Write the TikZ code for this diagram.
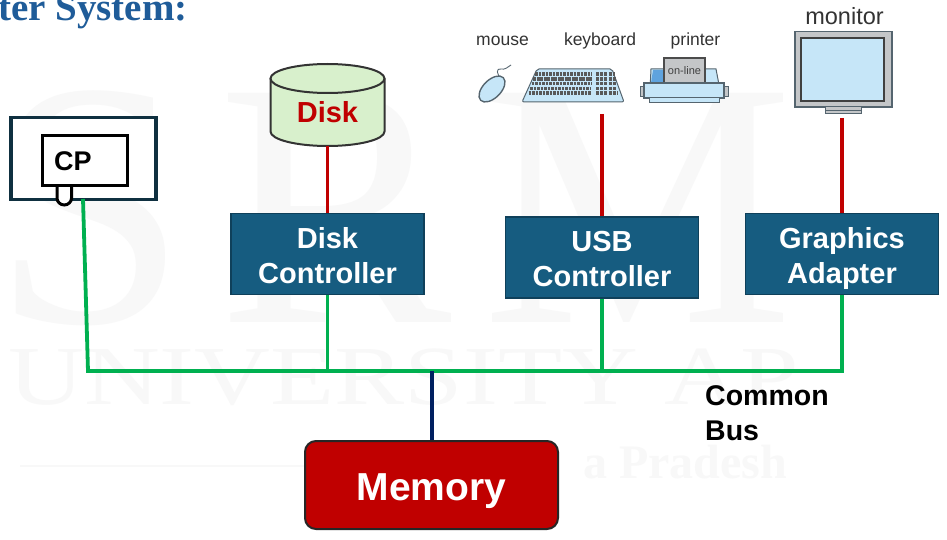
\documentclass[tikz,border=0pt]{standalone}
\usepackage{fontspec}
\usepackage{graphicx}
\setmainfont{Liberation Sans}
\newfontfamily\serifwm{Liberation Serif}
\definecolor{ctrlblue}{HTML}{165C80}
\definecolor{buscol}{HTML}{00B050}
\definecolor{iored}{HTML}{C00000}
\definecolor{memblue}{HTML}{002060}
\definecolor{titleblue}{HTML}{1F5C99}
\definecolor{diskgreen}{HTML}{D8F0CC}
\definecolor{wmgray}{HTML}{F8F8F8}
\definecolor{cpuframe}{HTML}{0F3040}
\definecolor{devblue}{HTML}{C6E6F8}
\definecolor{devedge}{HTML}{55656F}
\definecolor{devgray}{HTML}{C4C6C8}
\newcommand{\firstline}{\rule{0pt}{33.5pt}\strut}
\tikzset{
  x=1pt,y=-1pt,
  ctrlbox/.style={draw=ctrlblue!70!black,line width=1.4pt,fill=ctrlblue,text=white,minimum width=193pt,minimum height=81pt,align=center,font=\fontsize{29}{35}\selectfont\bfseries,inner sep=0pt},
  busline/.style={draw=buscol,line width=3.8pt},
  ioline/.style={draw=iored,line width=3.8pt},
  memline/.style={draw=memblue,line width=3.4pt},
  devlabel/.style={font=\fontsize{17.5}{20}\selectfont,text=black!80,inner sep=0pt},
  devshape/.style={draw=devedge,line width=1pt,fill=devblue},
  watermark/.style={text=wmgray,inner sep=0pt,anchor=base west},
}
\begin{document}
\begin{tikzpicture}
\useasboundingbox (0,0) rectangle (947,540);
\clip (0,0) rectangle (947,540);
\fill[white] (0,0) rectangle (947,540);
% watermark
\node[watermark,font=\serifwm\fontsize{350}{350}\selectfont] (wmS) at (-8,322) {S};
\node[watermark,font=\serifwm\fontsize{350}{350}\selectfont] (wmR) at (218,322) {R};
\node[watermark,font=\serifwm\fontsize{350}{350}\selectfont] (wmM) at (482,322) {M};
\node[watermark,font=\serifwm\fontsize{84}{84}\selectfont] (wmU) at (8,404) {\scalebox{1.25}[1]{UNIVERSITY AP}};
\node[watermark,font=\serifwm\bfseries\fontsize{48}{48}\selectfont] (wmP) at (583,478) {a Pradesh};
\draw[wmgray,line width=1.2pt] (20,466) -- (305,466);
% title
\node[inner sep=0pt,anchor=base west,text=titleblue,font=\serifwm\bfseries\fontsize{39}{39}\selectfont] (title) at (-2,21) {ter System:};
% controllers
\node[ctrlbox] (dc) at (327.5,254) {\firstline Disk\\\strut Controller};
\node[ctrlbox] (usb) at (602,257.5) {\firstline USB\\\strut Controller};
\node[ctrlbox] (ga) at (842,254) {\firstline Graphics\\\strut Adapter};
% cpu
\node[draw=cpuframe,line width=3.6pt,fill=white,minimum width=145pt,minimum height=82pt,inner sep=0pt] (cpu) at (83.5,158.5) {};
\draw[black,line width=3pt,fill=white] (57,184) -- (57,198) arc[start angle=180,end angle=0,x radius=7.25,y radius=7] -- (71.5,184);
\node[draw=black,line width=3.2pt,fill=white,minimum width=85pt,minimum height=50pt,inner sep=0pt] (cp) at (85,160.5) {};
\node[inner sep=0pt,anchor=base west,font=\fontsize{27}{27}\selectfont\bfseries] (cplabel) at (54,171) {CP};
% disk
\node[inner sep=0pt,outer sep=0pt,minimum width=114pt,minimum height=82pt] (disk) at (327.5,105) {};
\draw[draw=black!80,line width=2pt,fill=diskgreen] (270.5,78.5) -- (270.5,131.5) arc[start angle=180,end angle=0,x radius=57,y radius=14.5] -- (384.5,78.5);
\draw[draw=black!80,line width=2pt,fill=diskgreen] (327.5,78.5) ellipse[x radius=57,y radius=14.5];
\node[inner sep=0pt,text=iored,font=\fontsize{29}{29}\selectfont\bfseries] (disklabel) at (327.5,112) {Disk};
% memory
\node[draw=black!85,line width=2pt,fill=iored,rounded corners=11pt,minimum width=253pt,minimum height=88pt,inner sep=0pt] (mem) at (431.5,485) {};
\node[inner sep=0pt,text=white,font=\fontsize{39}{39}\selectfont\bfseries,anchor=base] (memlabel) at (431.5,500) {Memory};
% common bus label
\node[inner sep=0pt,anchor=base west,font=\fontsize{28.5}{28.5}\selectfont\bfseries] (cb1) at (705,405) {Common};
\node[inner sep=0pt,anchor=base west,font=\fontsize{28.5}{28.5}\selectfont\bfseries] (cb2) at (705,440) {Bus};
% device labels
\node[devlabel] (lm) at (502.5,41) {mouse};
\node[devlabel] (lk) at (600,41) {keyboard};
\node[devlabel] (lp) at (695.5,41) {printer};
\node[inner sep=0pt,font=\fontsize{23.5}{24}\selectfont,text=black!80] (lmon) at (844.5,16) {monitor};
% mouse
\draw[devedge,line width=0.9pt] (502,80) .. controls (496,74) and (496,68) .. (501,69) .. controls (505,70) and (508,67) .. (511,65);
\draw[devshape,line width=1.4pt,rotate around={45:(492,89)}] (492,89) ellipse[x radius=16,y radius=9];
% keyboard
\draw[devshape,rounded corners=2pt] (522,102) -- (537,69) -- (612,69) -- (624,102) -- cycle;
\foreach \r in {0,1,2,3,4}{
  \draw[black!65,line width=3.6pt,dash pattern=on 2.6pt off 0.9pt] (535-\r*1.6,74+\r*4.8) -- (592-\r*0.2,74+\r*4.8);
  \draw[black!65,line width=3.6pt,dash pattern=on 3pt off 1.2pt] (596,74+\r*4.8) -- (615+\r*0.6,74+\r*4.8);
}
% printer
\draw[devshape] (650,90) -- (651,69) -- (716,69) -- (720,90) -- cycle;
\fill[cyan!65!blue!65] (651,83) -- (653,70) -- (664,70) -- (664,83) -- cycle;
\draw[draw=black!70,fill=devgray,line width=1.2pt] (664,58) rectangle (705,83);
\node[inner sep=0pt,font=\fontsize{11}{12}\selectfont,text=black!75] (on) at (684.5,71) {on-line};
\draw[devedge,line width=1pt,fill=devgray] (640,87) rectangle (644,97);
\draw[devedge,line width=1pt,fill=devgray] (724,87) rectangle (728,97);
\draw[devshape,line width=1.2pt] (644,83) rectangle (724,98);
\draw[devshape] (649,98) rectangle (719,103);
% monitor
\draw[draw=devedge,line width=1.2pt,fill=devgray] (795,31.5) rectangle (892,107);
\draw[draw=black!75,line width=1.4pt,fill=devblue] (801,38) rectangle (884,101);
\draw[draw=devedge,line width=1pt,fill=devgray] (825,107) rectangle (861,114);
\draw[draw=devedge,line width=0.8pt] (825,110) -- (861,110);
% connectors
\coordinate (busL) at (88,371);
\coordinate (busR) at (842,371);
\coordinate (mouth) at (432,371);
\coordinate (cpufoot) at (83,199);
\coordinate (kbfoot) at (602,114);
\coordinate (monfoot) at (842,118);
\draw[busline,line join=miter] (cpufoot) -- (busL) -- (busR) -- (ga.south);
\draw[busline] (dc.south) -- (dc.south |- busL);
\draw[busline] (usb.south) -- (usb.south |- busL);
\draw[ioline] (disk.south) -- (dc.north);
\draw[ioline] (kbfoot) -- (usb.north);
\draw[ioline] (monfoot) -- (ga.north);
\draw[memline] (mouth) -- (mem.north -| mouth);
\end{tikzpicture}
\end{document}
